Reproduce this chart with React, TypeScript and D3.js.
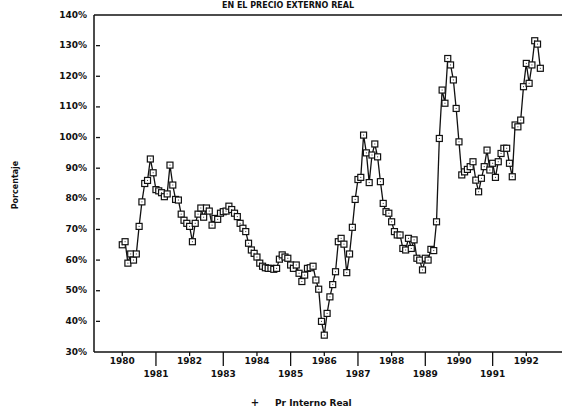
import React from "react";
import * as d3 from "d3";

const START_YEAR = 1980;
// Monthly values (%) from Jan 1980
const values: number[] = [
  65, 66, 59, 62, 60, 62, 71, 79, 85, 86, 93, 88.5,
  83, 82.6, 82, 80.7, 81.6, 91, 84.5, 79.8, 79.6, 75, 73, 72,
  71, 66, 72, 75, 77, 74, 77, 76, 71.4, 73.6, 73.3, 75.3,
  75.8, 76, 77.6, 76.5, 75.3, 74.2, 72, 70.4, 69.3, 65.5, 63.3, 62.2,
  61, 59, 58, 57.5, 57.3, 57.3, 57, 57.3, 60.3, 61.7, 61, 60.6,
  58.4, 57.3, 58.4, 55.7, 53, 55.1, 57.3, 57.5, 58, 53.5, 50.5, 40,
  35.5, 42.6, 48, 52, 56.2, 66, 67.1, 65.2, 55.9, 62, 70.7, 79.8,
  86.3, 87, 100.8, 95, 85.3, 94.3, 97.9, 93.7, 85.6, 78.5, 75.8, 75.3,
  72.5, 69.3, 68.2, 68.2, 63.8, 63.3, 67.1, 63.8, 66.6, 60.6, 60, 56.8,
  60.6, 60, 63.5, 63.1, 72.5, 99.7, 115.5, 111.2, 125.8, 123.7, 118.8, 109.5,
  98.6, 87.8, 88.8, 89.6, 90.5, 92.1, 86.1, 82.3, 86.7, 90.5, 95.9, 89.4,
  91.6, 87, 92.1, 94.8, 96.5, 96.5, 91.6, 87.2, 104.1, 103.5, 105.7, 116.6,
  124.2, 117.7, 123.7, 131.6, 130.5, 122.6,
];

const yearTicks: number[] = [1980, 1981, 1982, 1983, 1984, 1985, 1986, 1987, 1988, 1989, 1990, 1991, 1992];
const yTicks: number[] = [30, 40, 50, 60, 70, 80, 90, 100, 110, 120, 130, 140];

const title = "EN EL PRECIO EXTERNO REAL";
const yTitle = "Porcentaje";
const legendLabel = "Pr Interno Real";

const W = 562;
const H = 410;
const plotLeft = 94;
const plotRight = 562;
const plotTop = 15;
const plotBottom = 352;

const FONT = "'DejaVu Sans', sans-serif";

export default function App() {
  const x = d3.scaleLinear().domain([1979.16, 1993.06]).range([plotLeft, plotRight]);
  const y = d3.scaleLinear().domain([30, 140]).range([plotBottom, plotTop]);

  const pts = values.map((v, i) => ({ t: START_YEAR + i / 12, v }));
  const line = d3
    .line<{ t: number; v: number }>()
    .x((d) => x(d.t))
    .y((d) => y(d.v));

  return (
    <svg
      width={W}
      height={H}
      style={{ position: "absolute", left: 0, top: 0, background: "#fff" }}
      fontFamily={FONT}
    >
      <rect x={0} y={0} width={W} height={H} fill="#fff" />
      {/* title */}
      <text x={288} y={8} textAnchor="middle" fontSize={8} fontWeight="bold" fill="#111">
        {title}
      </text>
      {/* frame */}
      <line x1={plotLeft} x2={plotRight} y1={plotTop} y2={plotTop} stroke="#111" strokeWidth={1.5} />
      <line x1={plotLeft} x2={plotLeft} y1={plotTop} y2={plotBottom} stroke="#111" strokeWidth={1.5} />
      <line x1={plotLeft} x2={plotRight} y1={plotBottom} y2={plotBottom} stroke="#111" strokeWidth={1.5} />
      {/* y ticks */}
      {yTicks.map((t) => (
        <g key={t}>
          {t > 30 && t < 140 && (
            <line x1={plotLeft + 2} x2={plotLeft + 6} y1={y(t)} y2={y(t)} stroke="#111" strokeWidth={1.3} />
          )}
          <text
            x={plotLeft - 7}
            y={y(t)}
            textAnchor="end"
            dominantBaseline="middle"
            fontSize={9}
            fontWeight="bold"
            fill="#111"
          >
            {`${t}%`}
          </text>
        </g>
      ))}
      {/* x ticks */}
      {yearTicks.map((yr, i) => {
        const odd = i % 2 === 1;
        return (
          <g key={yr}>
            <line
              x1={x(yr)}
              x2={x(yr)}
              y1={plotBottom}
              y2={plotBottom + (odd ? 14 : 4)}
              stroke="#111"
              strokeWidth={1.3}
            />
            <text
              x={x(yr)}
              y={odd ? 374 : 361}
              textAnchor="middle"
              dominantBaseline="middle"
              fontSize={9}
              fontWeight="bold"
              fill="#111"
            >
              {yr}
            </text>
          </g>
        );
      })}
      {/* y title */}
      <text
        transform={`translate(15,185) rotate(-90)`}
        textAnchor="middle"
        dominantBaseline="middle"
        fontSize={8}
        fontWeight="bold"
        fill="#111"
      >
        {yTitle}
      </text>
      {/* series */}
      <path d={line(pts) || ""} fill="none" stroke="#111" strokeWidth={1.3} />
      {pts.map((p, i) => (
        <g key={i}>
          <rect
            x={x(p.t) - 3}
            y={y(p.v) - 3}
            width={6}
            height={6}
            fill="#fff"
            stroke="#111"
            strokeWidth={1.2}
          />
          <rect x={x(p.t) - 0.5} y={y(p.v) - 0.5} width={1} height={1} fill="#333" />
        </g>
      ))}
      {/* legend */}
      <text x={255} y={403} textAnchor="middle" dominantBaseline="middle" fontSize={10} fontWeight="bold" fill="#111">
        +
      </text>
      <text x={275} y={403} dominantBaseline="middle" fontSize={9} fontWeight="bold" fill="#111">
        {legendLabel}
      </text>
    </svg>
  );
}
